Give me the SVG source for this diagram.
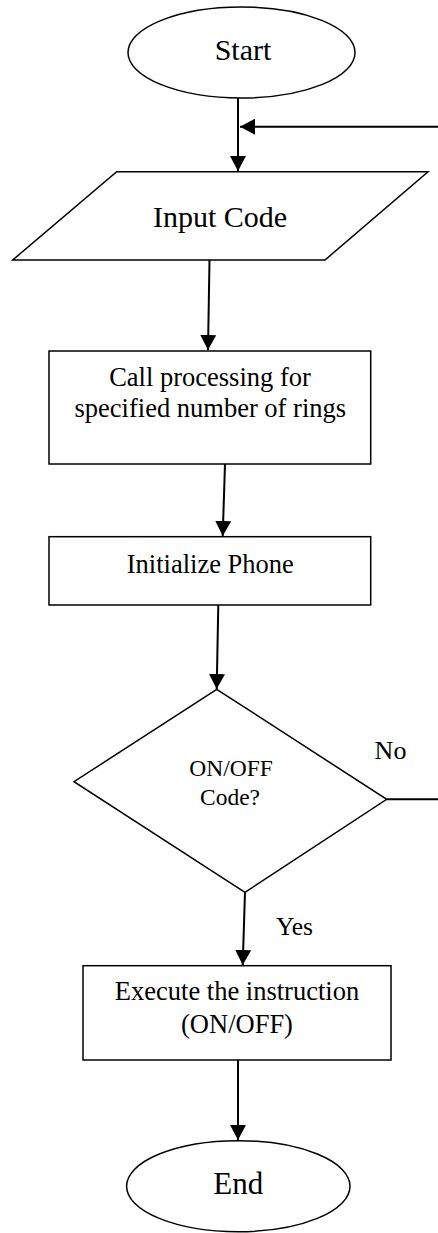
<svg xmlns="http://www.w3.org/2000/svg" width="438" height="1233" viewBox="0 0 438 1233">
<style>
.shape{fill:#fff;stroke:#000;stroke-width:1.5}
.conn{fill:none;stroke:#000;stroke-width:2}
.t{font-family:"Liberation Serif","Times New Roman",serif;fill:#000;text-anchor:middle}
</style>
<defs>
<marker id="ah" markerWidth="16" markerHeight="16" viewBox="0 0 16 16" refX="15" refY="8" orient="auto" markerUnits="userSpaceOnUse">
<path d="M0,0 L15,8 L0,16 Z" fill="#000"/>
</marker>
</defs>
<rect width="438" height="1233" fill="#fff"/>
<g id="connectors">
<line class="conn" x1="238" y1="98" x2="238" y2="171" marker-end="url(#ah)"/>
<line class="conn" x1="440" y1="126.7" x2="240" y2="126.7" marker-end="url(#ah)"/>
<line class="conn" x1="209.5" y1="260" x2="208" y2="350" marker-end="url(#ah)"/>
<line class="conn" x1="225" y1="464" x2="222.7" y2="536" marker-end="url(#ah)"/>
<line class="conn" x1="218.3" y1="605" x2="216.7" y2="689" marker-end="url(#ah)"/>
<line class="conn" x1="386.7" y1="799.3" x2="440" y2="799.3"/>
<line class="conn" x1="245" y1="892" x2="242.7" y2="965" marker-end="url(#ah)"/>
<line class="conn" x1="238" y1="1060" x2="238" y2="1140" marker-end="url(#ah)"/>
<text class="t" x="390.5" y="759.3" font-size="26">No</text>
<text class="t" x="294.5" y="935" font-size="25.5">Yes</text>
</g>
<g id="start">
<ellipse class="shape" cx="241.5" cy="52.5" rx="113.5" ry="45.5"/>
<text class="t" x="243" y="60" font-size="30">Start</text>
</g>
<g id="input">
<polygon class="shape" points="116.7,171.7 428,171.7 325,260 12.7,260"/>
<text class="t" x="220" y="227" font-size="30">Input Code</text>
</g>
<g id="callproc">
<rect class="shape" x="49" y="351" width="321.7" height="113"/>
<text class="t" x="210" y="386" font-size="26.5">Call processing for</text>
<text class="t" x="210.3" y="416.7" font-size="26.5">specified number of rings</text>
</g>
<g id="init">
<rect class="shape" x="49" y="536.7" width="321.7" height="68.3"/>
<text class="t" x="210.3" y="572.7" font-size="26.5">Initialize Phone</text>
</g>
<g id="decision">
<polygon class="shape" points="216.7,689.3 386.7,799.3 245,892.3 74,781.7"/>
<text class="t" x="231" y="776" font-size="23.5">ON/OFF</text>
<text class="t" x="230" y="805" font-size="23.5">Code?</text>
</g>
<g id="execute">
<rect class="shape" x="83" y="965.7" width="308" height="94.3"/>
<text class="t" x="237" y="1000" font-size="26.5">Execute the instruction</text>
<text class="t" x="237" y="1032.7" font-size="26.5">(ON/OFF)</text>
</g>
<g id="end">
<ellipse class="shape" cx="238.3" cy="1186.2" rx="111.7" ry="45.5"/>
<text class="t" x="238.3" y="1194" font-size="31">End</text>
</g>
</svg>
